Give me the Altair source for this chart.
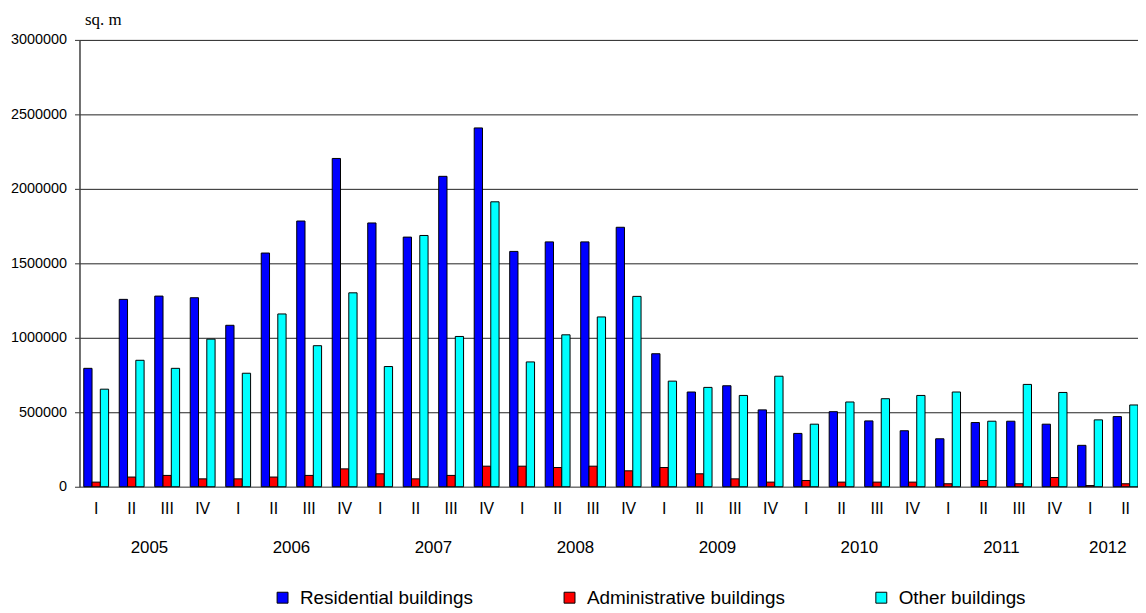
import altair as alt
import pandas as pd

years = ["2005", "2006", "2007", "2008", "2009", "2010", "2011", "2012"]
quarter_names = ["I", "II", "III", "IV"]
quarters = [f"{y} {q}" for y in years for q in quarter_names][:30]

series_names = ["Residential buildings", "Administrative buildings", "Other buildings"]
colors = ["#0000FF", "#FF0000", "#00FFFF"]

residential = [795000, 1258000, 1280000, 1269000,
               1084000, 1569000, 1784000, 2204000,
               1771000, 1676000, 2084000, 2409000,
               1580000, 1644000, 1644000, 1742000,
               893000, 636000, 678000, 516000,
               358000, 504000, 442000, 376000,
               322000, 431000, 440000, 420000,
               278000, 471000]
administrative = [31000, 65000, 76000, 53000,
                  53000, 65000, 76000, 120000,
                  87000, 53000, 76000, 138000,
                  138000, 129000, 138000, 107000,
                  129000, 87000, 53000, 31000,
                  42000, 31000, 31000, 31000,
                  20000, 42000, 20000, 62000,
                  8000, 20000]
other = [655000, 849000, 795000, 991000,
         762000, 1160000, 947000, 1302000,
         807000, 1687000, 1009000, 1913000,
         838000, 1020000, 1140000, 1278000,
         709000, 667000, 613000, 742000,
         420000, 569000, 591000, 613000,
         636000, 440000, 687000, 633000,
         449000, 549000]

y_ticks = [0, 500000, 1000000, 1500000, 2000000, 2500000, 3000000]

rows = []
for i, k in enumerate(quarters):
    for s, vals in zip(series_names, [residential, administrative, other]):
        rows.append({"key": k, "series": s, "value": vals[i]})
df = pd.DataFrame(rows)

# year label anchored at the 2nd quarter of each year (1st for the partial 2012)
year_rows = []
for y in years:
    qs = [k for k in quarters if k.startswith(y)]
    anchor = qs[1] if len(qs) == 4 else qs[0]
    year_rows.append({"key": anchor, "year": y})
df_years = pd.DataFrame(year_rows)

FONT = "Liberation Sans"

x_scale = alt.Scale(domain=quarters, paddingInner=0.3, paddingOuter=0.06, align=1)

bars = alt.Chart(df).mark_bar(stroke="black", strokeWidth=1).encode(
    x=alt.X("key:N", sort=quarters, scale=x_scale,
            axis=alt.Axis(title=None, labelExpr="split(datum.value, ' ')[1]",
                          labelAngle=0, ticks=False, labelFontSize=16,
                          labelPadding=14, labelFont=FONT, labelColor="black",
                          domainColor="#808080", domainWidth=1, grid=False)),
    xOffset=alt.XOffset("series:N", sort=series_names,
                        scale=alt.Scale(domain=series_names, paddingInner=0, paddingOuter=0)),
    y=alt.Y("value:Q", scale=alt.Scale(domain=[0, 3000000], nice=False),
            axis=alt.Axis(values=y_ticks, format="d", title="sq. m",
                          titleAngle=0, titleX=5, titleY=-16, titleAlign="left",
                          titleBaseline="alphabetic", titleFont="Liberation Serif",
                          titleFontSize=17, titleFontWeight="normal", titleColor="black",
                          labelFont=FONT, labelFontSize=14.5, labelColor="black",
                          labelPadding=8, tickSize=5, tickColor="#333333",
                          domainColor="#404040", domainWidth=1.5,
                          grid=True, gridColor="#222222", gridWidth=1)),
    color=alt.Color("series:N", sort=series_names,
                    scale=alt.Scale(domain=series_names, range=colors),
                    legend=alt.Legend(title=None, orient="none", legendX=195, legendY=552,
                                      direction="horizontal", symbolType="square",
                                      symbolSize=121, symbolStrokeColor="black",
                                      symbolStrokeWidth=1, labelFont=FONT,
                                      labelFontSize=19, labelColor="black",
                                      labelOffset=8, columnPadding=87, labelLimit=400)),
)

year_text = alt.Chart(df_years).mark_text(
    dx=17.9, fontSize=17, font=FONT, color="black", align="center", baseline="middle"
).encode(
    x=alt.X("key:N", sort=quarters, scale=x_scale),
    y=alt.value(512),
    text="year:N",
)

chart = alt.layer(bars, year_text).properties(
    width=1066, height=450,
    autosize=alt.AutoSizeParams(type="none"),
    padding={"left": 72, "top": 30, "right": 0, "bottom": 122},
    background="white",
).configure_view(stroke=None)

chart.save("out.html", embed_options={"renderer": "svg", "actions": False})
